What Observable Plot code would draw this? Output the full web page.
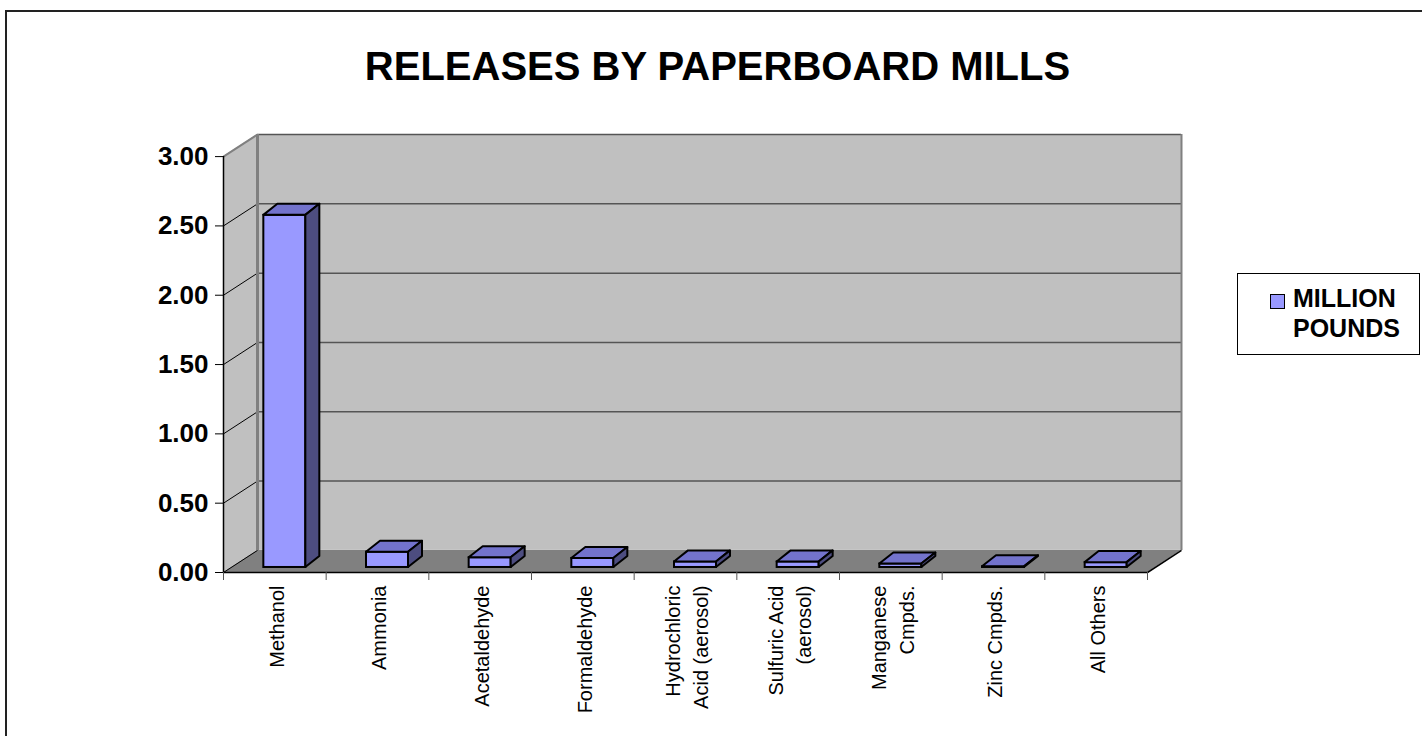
<!DOCTYPE html>
<html>
<head>
<meta charset="utf-8">
<script src="https://cdn.jsdelivr.net/npm/d3@7"></script>
<script src="https://cdn.jsdelivr.net/npm/@observablehq/plot@0.6"></script>
<style>
  body { margin: 0; background: #fff; overflow: hidden; font-family: "Liberation Sans", Arial, sans-serif; }
  #wrap { position: relative; width: 1422px; height: 736px; overflow: hidden; background: #fff; }
  #border { position: absolute; left: 5px; top: 10px; width: 1440px; height: 760px; border: 2px solid #222; }
  #chart svg { position: absolute; left: 0; top: 0; }
  #title { position: absolute; left: 7px; width: 1421px; top: 46px; text-align: center;
           font-size: 40px; font-weight: bold; line-height: 40px; color: #000; }
  #legend { position: absolute; left: 1237px; top: 273px; width: 181px; height: 80px;
            border: 1px solid #000; background: #fff; }
  #legend .sw { position: absolute; left: 32px; top: 20px; width: 13px; height: 13px;
                border: 1px solid #000; }
  #legend .lab { position: absolute; left: 55px; top: 9px; font-size: 25px; font-weight: bold;
                 line-height: 30px; color: #000; }
</style>
</head>
<body>
<div id="wrap">
  <div id="border"></div>
  <div id="chart"></div>
  <div id="title"></div>
  <div id="legend"><div class="sw"></div><div class="lab"></div></div>
</div>
<script>
// ---- data ----
const chartTitle = "RELEASES BY PAPERBOARD MILLS";
const seriesName = ["MILLION", "POUNDS"];
const categories = [
  "Methanol",
  "Ammonia",
  "Acetaldehyde",
  "Formaldehyde",
  "Hydrochloric\nAcid (aerosol)",
  "Sulfuric Acid\n(aerosol)",
  "Manganese\nCmpds.",
  "Zinc Cmpds.",
  "All Others"
];
const values = [2.54, 0.11, 0.07, 0.065, 0.04, 0.04, 0.025, 0.005, 0.035];
const yTicks = [0, 0.5, 1, 1.5, 2, 2.5, 3];

// ---- colours ----
const barFront = "#9999ff", barTop = "#7373cc", barSide = "#4d4d80";
const wallFill = "#c0c0c0", floorFill = "#808080";

// ---- oblique-projection geometry (pixel sizes converted to data units) ----
const n = categories.length;
const yMax = yTicks[yTicks.length - 1];
const PXX = 924 / n;      // pixels per x unit (front plane)
const PXY = 414 / yMax;   // pixels per y unit
const KX = 34 / PXX, KY = 22 / PXY;           // wall depth
const sx = 10 / PXX, sy = 5 / PXY;            // bar front-face offset from front edge
const bw = 42 / PXX;                          // bar width
const bdx = 14 / PXX, bdy = 11 / PXY;         // bar depth

const bars = categories.map((c, i) => ({
  name: c, v: values[i],
  xl: i + 0.5 - bw / 2 + sx,
  xr: i + 0.5 + bw / 2 + sx
}));
const topFaces = bars.flatMap(b => [
  {name: b.name, x1: b.xl, y1: sy + b.v, x2: b.xl + bdx, y2: sy + b.v + bdy},
  {name: b.name, x1: b.xr, y1: sy + b.v, x2: b.xr + bdx, y2: sy + b.v + bdy}
]);
const sideFaces = bars.flatMap(b => [
  {name: b.name, x1: b.xr, y1: sy, x2: b.xr + bdx, y2: sy + bdy},
  {name: b.name, x1: b.xr, y1: sy + b.v, x2: b.xr + bdx, y2: sy + b.v + bdy}
]);
const sideWall = [
  {x1: 0, y1: 0, x2: KX, y2: KY},
  {x1: 0, y1: yMax, x2: KX, y2: yMax + KY}
];
const floor = [
  {x1: 0, y1: 0, x2: KX, y2: KY},
  {x1: n, y1: 0, x2: n + KX, y2: KY}
];
const area4 = {x1: "x1", y1: "y1", x2: "x2", y2: "y2"};

const plot = Plot.plot({
  width: 1422,
  height: 736,
  marginLeft: 223,
  marginRight: 241,
  marginTop: 134,
  marginBottom: 164,
  style: {fontFamily: '"Liberation Sans", Arial, sans-serif', background: "transparent", color: "#000"},
  x: {type: "linear", domain: [0, n + KX], label: null},
  y: {type: "linear", domain: [0, yMax + KY], label: null},
  marks: [
    // walls & floor
    Plot.area(sideWall, {...area4, fill: wallFill}),
    Plot.rect([0], {x1: KX, x2: n + KX, y1: KY, y2: yMax + KY, fill: wallFill}),
    Plot.area(floor, {...area4, fill: floorFill}),
    // gridlines on back wall
    Plot.ruleY(yTicks.slice(1), {y: d => d + KY, x1: KX, x2: n + KX, stroke: "#555", strokeWidth: 1.5}),
    // diagonals on side wall
    Plot.link(yTicks.slice(0, -1), {x1: 0, y1: d => d, x2: KX, y2: d => d + KY, stroke: "#000", strokeWidth: 1}),
    Plot.link([yMax], {x1: 0, y1: d => d, x2: KX, y2: d => d + KY, stroke: "#808080", strokeWidth: 2}),
    // wall edges
    Plot.ruleX([KX], {y1: KY, y2: yMax + KY, stroke: "#808080", strokeWidth: 3}),
    Plot.ruleX([n + KX], {y1: KY, y2: yMax + KY, stroke: "#808080", strokeWidth: 2}),
    Plot.ruleY([0], {x1: 0, x2: n, stroke: "#000", strokeWidth: 1.5}),
    Plot.link([0], {x1: n, y1: 0, x2: n + KX, y2: KY, stroke: "#000", strokeWidth: 1.5}),
    Plot.ruleX([0], {y1: 0, y2: yMax, stroke: "#000", strokeWidth: 1.5}),
    // bars
    Plot.rect(bars, {x1: "xl", x2: "xr", y1: () => sy, y2: d => sy + d.v, fill: barFront, stroke: "#000", strokeWidth: 2}),
    Plot.area(topFaces, {...area4, z: "name", fill: barTop, stroke: "#000", strokeWidth: 2, strokeLinejoin: "round"}),
    Plot.area(sideFaces, {...area4, z: "name", fill: barSide, stroke: "#000", strokeWidth: 2, strokeLinejoin: "round"}),
    // axes
    Plot.axisY(yTicks, {tickFormat: d => d.toFixed(2), tickSize: 8, tickPadding: 7, fontSize: 26, fontWeight: "bold", stroke: "#000", fill: "#000", label: null}),
    Plot.axisX(d3.range(n + 1), {tickSize: 8, tickFormat: () => "", stroke: "#555", label: null}),
    Plot.text(categories, {x: (d, i) => i + 0.5, y: 0, text: d => d, rotate: -90, textAnchor: "end",
      lineAnchor: "middle", lineHeight: 1.4, dy: 13, fontSize: 20, fill: "#000"})
  ]
});
document.getElementById("chart").append(plot);
document.getElementById("title").textContent = chartTitle;
document.querySelector("#legend .sw").style.background = barFront;
document.querySelector("#legend .lab").innerHTML = seriesName.join("<br>");
</script>
</body>
</html>
